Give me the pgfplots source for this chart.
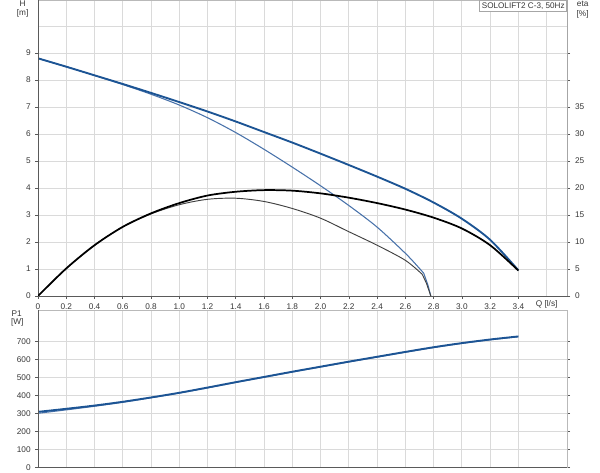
\documentclass[border=0pt]{standalone}
\usepackage{pgfplots}
\pgfplotsset{compat=1.18}
\usepackage{fontspec}
\setmainfont{Liberation Sans}

\definecolor{pumpblue}{RGB}{28,84,148}
\definecolor{pumpblue2}{RGB}{72,114,170}
\definecolor{gridgray}{RGB}{218,218,218}
\definecolor{ticktext}{RGB}{55,55,55}
\definecolor{axisdark}{RGB}{90,90,90}

% H curve, full
\pgfplotstableread{
Q H
0 8.80
0.2 8.49
0.4 8.17
0.6 7.85
0.8 7.52
1.0 7.18
1.2 6.83
1.4 6.46
1.6 6.07
1.8 5.68
2.0 5.27
2.2 4.85
2.4 4.42
2.6 3.97
2.8 3.46
3.0 2.86
3.2 2.08
3.4 0.95
}\hfull
% H curve, reduced (smooth part)
\pgfplotstableread{
Q H
0 8.80
0.2 8.49
0.4 8.17
0.6 7.83
0.8 7.47
1.0 7.07
1.2 6.60
1.4 6.05
1.6 5.43
1.8 4.77
2.0 4.08
2.2 3.35
2.4 2.55
2.6 1.58
2.7 1.02
2.73 0.84
}\hred
% H curve, reduced (drop to zero)
\pgfplotstableread{
Q H
2.73 0.84
2.76 0.40
2.78 0
}\hredend
% eta, full
\pgfplotstableread{
Q eta
0 0
0.2 5.1
0.4 9.4
0.6 12.8
0.8 15.3
1.0 17.2
1.2 18.6
1.4 19.3
1.6 19.6
1.8 19.5
2.0 19.0
2.2 18.2
2.4 17.2
2.6 16.0
2.8 14.5
3.0 12.5
3.2 9.4
3.4 4.7
}\etafull
% eta, reduced (smooth part)
\pgfplotstableread{
Q eta
0 0
0.2 5.1
0.4 9.4
0.6 12.8
0.8 15.2
1.0 16.9
1.2 17.9
1.4 18.1
1.6 17.5
1.8 16.2
2.0 14.4
2.2 11.9
2.4 9.4
2.6 6.6
2.72 4.0
}\etared
% eta, reduced (drop to zero)
\pgfplotstableread{
Q eta
2.72 4.0
2.75 2.3
2.78 0
}\etaredend
% P1
\pgfplotstableread{
Q P
0 308
0.2 325
0.4 343
0.6 364
0.8 388
1.0 414
1.2 443
1.4 473
1.6 502
1.8 531
2.0 559
2.2 587
2.4 614
2.6 641
2.8 667
3.0 690
3.2 710
3.4 727
}\pfull
\pgfplotstableread{
Q P
0 300
0.2 319
0.4 339
0.6 361
0.8 386
1.0 412
1.2 441
1.4 471
1.6 500
1.8 529
2.0 557
2.2 585
2.4 612
2.6 639
2.8 665
3.0 688
3.2 708
3.4 725
}\pred

\pgfplotsset{
  pump/.style={
    scale only axis,
    anchor=south west,
    width=396.75pt,
    xmin=0, xmax=3.744,
    tick align=outside,
    major tick length=2.25pt,
    tick style={axisdark, line width=0.5pt},
    major grid style={gridgray, line width=0.6pt},
    axis line style={gray!55, line width=0.6pt},
    ticklabel style={font=\fontsize{6.2}{7}\selectfont, text=ticktext},
    /pgf/number format/assume math mode=true,
    xtick={0,0.2,0.4,0.6,0.8,1.0,1.2,1.4,1.6,1.8,2.0,2.2,2.4,2.6,2.8,3.0,3.2,3.4},
    yticklabel style={xshift=0.3pt},
  },
  darkframe/.style={
    after end axis/.code={
      \draw[axisdark, line width=0.7pt] (rel axis cs:0,1) -- (rel axis cs:0,0) -- (rel axis cs:1,0);
    },
  },
}

\begin{document}
\begin{tikzpicture}
\useasboundingbox (0,0) rectangle (450pt,354.75pt);

% upper panel: head
\begin{axis}[pump, darkframe,
  at={(28.5pt,132.75pt)}, height=222pt,
  ymin=0, ymax=10.96,
  grid=major,
  ytick={0,1,2,3,4,5,6,7,8,9},
  xticklabels={0,0.2,0.4,0.6,0.8,1.0,1.2,1.4,1.6,1.8,2.0,2.2,2.4,2.6,2.8,3.0,3.2,3.4},
  extra x ticks={3.6}, extra x tick labels={{Q [l/s]}},
  extra y ticks={10}, extra y tick labels={},
  extra tick style={major tick length=0pt, grid=major},
]
  \addplot[pumpblue2, line width=0.8pt, smooth, tension=0.5] table[x=Q, y=H] {\hred};
  \addplot[pumpblue2, line width=0.8pt] table[x=Q, y=H] {\hredend};
  \addplot[pumpblue, line width=1.4pt, smooth, tension=0.5] table[x=Q, y=H] {\hfull};
\end{axis}

% upper panel: efficiency
\begin{axis}[pump,
  at={(28.5pt,132.75pt)}, height=222pt,
  ymin=0, ymax=54.8,
  axis x line=none, axis y line*=right,
  axis line style={gray!70, line width=0.6pt},
  ytick={0,5,10,15,20,25,30,35},
]
  \addplot[black!75, line width=0.7pt, smooth, tension=0.5] table[x=Q, y=eta] {\etared};
  \addplot[black!75, line width=0.7pt] table[x=Q, y=eta] {\etaredend};
  \addplot[black, line width=1.3pt, smooth, tension=0.5] table[x=Q, y=eta] {\etafull};
  \node[draw=gray!70, fill=white, anchor=north east, inner sep=1.6pt,
        font=\fontsize{6.1}{7}\selectfont, text=ticktext]
        at (rel axis cs:1,1) {SOLOLIFT2 C-3, 50Hz};
\end{axis}

% lower panel: power
\begin{axis}[pump, darkframe,
  at={(28.5pt,4.275pt)}, height=118pt,
  ymin=0, ymax=874,
  grid=major,
  xticklabels={},
  xtick style={draw=none},
  ytick={0,100,200,300,400,500,600,700},
]
  \addplot[pumpblue2, line width=0.8pt, smooth, tension=0.5] table[x=Q, y=P] {\pred};
  \addplot[pumpblue, line width=1.4pt, smooth, tension=0.5] table[x=Q, y=P] {\pfull};
\end{axis}

\begin{scope}[every node/.style={font=\fontsize{6.2}{7}\selectfont, text=ticktext, inner sep=0pt}]
  \node at (17pt,351.8pt) {H};
  \node at (17pt,344.8pt) {[m]};
  \node at (437pt,351.8pt) {eta};
  \node at (437pt,344.3pt) {[\%]};
  \node at (12.5pt,119.8pt) {P1};
  \node at (13pt,112.7pt) {[W]};
\end{scope}
\end{tikzpicture}
\end{document}
